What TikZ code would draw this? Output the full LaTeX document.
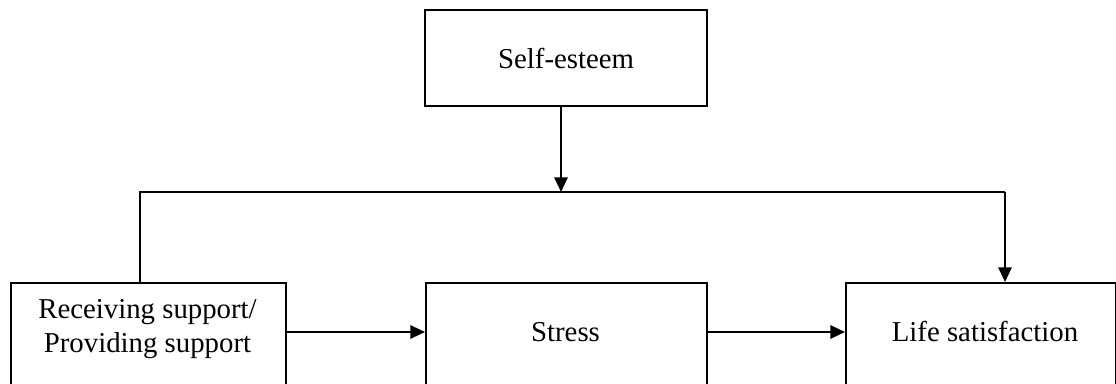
\documentclass[tikz,border=0pt]{standalone}
\usepackage{fontspec}
\setmainfont{Liberation Serif}
\usetikzlibrary{arrows.meta}
\begin{document}
\begin{tikzpicture}[x=0.75pt,y=-0.75pt,
  line width=1.6pt,
  box/.style={draw,line width=1.6pt,rectangle,inner sep=0pt,anchor=north west},
  lbl/.style={font=\fontsize{21.6}{25}\selectfont,align=center,inner sep=0pt},
  arr/.style={-{Triangle[length=11pt,width=10pt]}}]
\useasboundingbox (0,0) rectangle (1116,384);
\clip (0,0) rectangle (1116,384);
\node[box,minimum width=211.5pt,minimum height=72pt] (se) at (424,9) {};
\node[lbl] (setxt) at (se.center) {Self-esteem};
\node[box,minimum width=206.25pt,minimum height=105pt] (rs) at (10,282) {};
\node[box,minimum width=210.75pt,minimum height=105pt] (st) at (425,282) {};
\node[box,minimum width=202.5pt,minimum height=105pt] (ls) at (845,282) {};
\node[lbl] (rstxt) at (147.5,329) {Receiving support/\\Providing support};
\node[lbl] (sttxt) at (565.5,332) {Stress};
\node[lbl] (lstxt) at (985,332) {Life satisfaction};
\coordinate (hl) at (140,192);
\coordinate (hr) at (1005,192);
\coordinate (ry) at (0,332);
\coordinate (sx) at (561,0);
\draw (rs.north -| hl) -- (hl) -- (hr);
\draw[arr] (hr) -- (ls.north -| hr);
\draw[arr] (se.south -| sx) -- (hl -| sx);
\draw[arr] (rs.east |- ry) -- (st.west |- ry);
\draw[arr] (st.east |- ry) -- (ls.west |- ry);
\end{tikzpicture}
\end{document}
